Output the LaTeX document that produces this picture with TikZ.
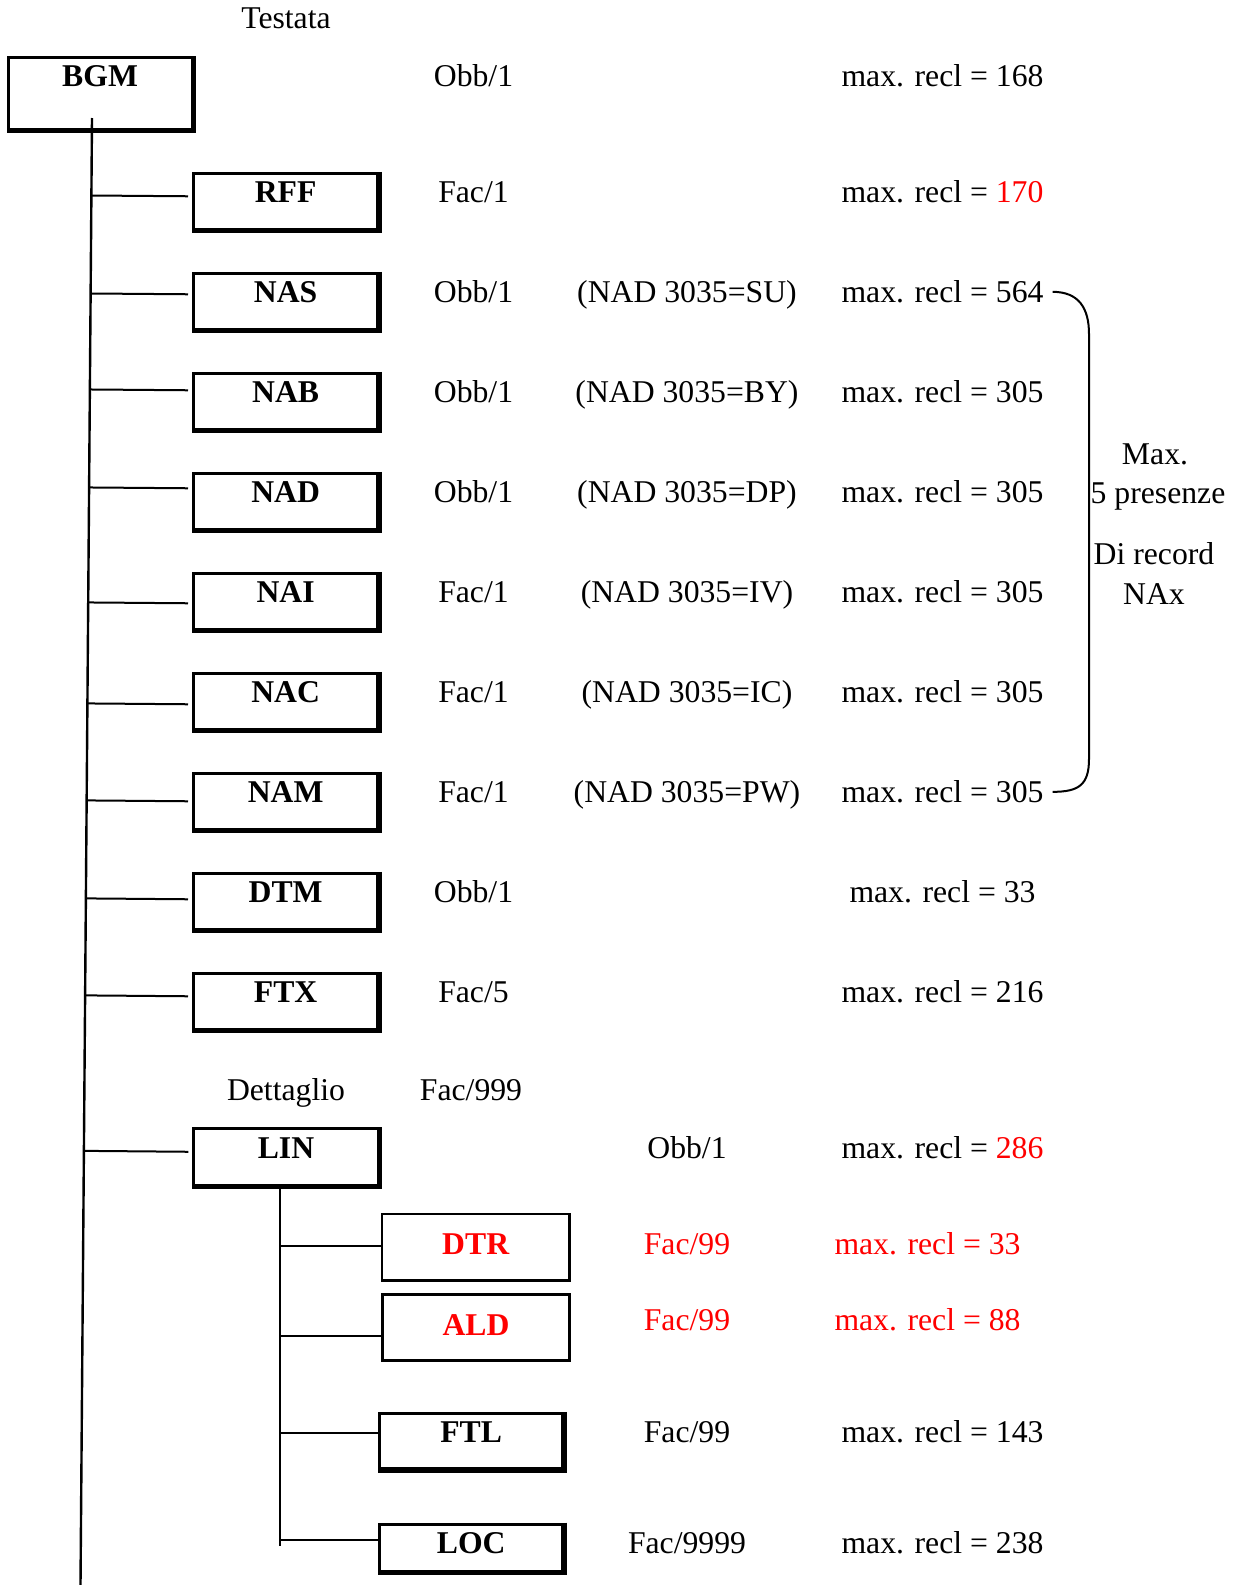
\documentclass[tikz,border=0pt]{standalone}
\usepackage{fontspec}
\setmainfont{Liberation Serif}
\usetikzlibrary{calc,positioning}

\begin{document}
\begin{tikzpicture}[x=1pt,y=-1pt,
    font=\fontsize{31.7pt}{39.5pt}\selectfont,
    recbox/.style={draw, line width=2.8pt, minimum width=184.4pt, minimum height=56.3pt,
      inner sep=0pt, text height=24pt, text depth=21.4pt,
      font=\fontsize{31.7pt}{39.5pt}\selectfont\bfseries},
    detbox/.style={recbox, line width=2.7pt, minimum width=187.4pt, minimum height=66.5pt, text=red},
    txt/.style={inner sep=0pt, anchor=base},
    link/.style={line width=2pt}]
        \useasboundingbox (0,0) rectangle (1234,1585);

        % Define column positions first
        \coordinate (c2) at (473.5,0);
        \coordinate (c3) at (687,0);
        \coordinate (c4) at (942.5,0);
        \coordinate (c4r) at (927.5,0);

        % Header record and main trunk
        \node[txt] (testata) at (286,28.3) {Testata};
        \node[recbox, minimum width=184pt, minimum height=72pt, text depth=37pt] (BGM) at (100.1,93.4) {BGM};
        \node[txt] (kBGM) at (BGM.base -| c2) {Obb/1};
        \node[txt] (rBGM) at (BGM.base -| c4) {max. recl = 168};
        \coordinate (ttop) at (92,118);
        \coordinate (tbot) at (80.5,1585);
        \draw[line width=2.4pt] (ttop) -- (tbot);

        % Header segments, one row every 100pt
        \foreach \n/\i/\dy/\k/\m/\r in {RFF/0/-5/Fac/1/\textcolor{red}{170}, NAS/1/-7/Obb/1/564,
            NAB/2/-11/Obb/1/305, NAD/3/-13/Obb/1/305, NAI/4/2/Fac/1/305, NAC/5/3/Fac/1/305,
            NAM/6/0/Fac/1/305, DTM/7/-2/Obb/1/33, FTX/8/-5/Fac/5/216} {
            \node[recbox] (\n) at (285.6,201.3+100*\i) {\n};
            % branch from the trunk to the box
            \coordinate (b\n) at ($(\n.west)+(0,\dy)$);
            \draw[link, shorten >=4pt] ($(ttop)!(b\n)!(tbot)$) -- (b\n);
            \node[txt] (k\n) at (\n.base -| c2) {\k/\m};
            \node[txt] (r\n) at (\n.base -| c4) {max. recl = \r};
        }

        % Conditions of the NAx records
        \foreach \n/\q in {NAS/SU,NAB/BY,NAD/DP,NAI/IV,NAC/IC,NAM/PW}
            \node[txt] (q\n) at (\n.base -| c3) {(NAD 3035=\q)};

        % Brace round the NAx records
        \draw[link] ([xshift=9pt]rNAS.east) .. controls +(26,0) and +(0,-26) .. (1089,334)
            -- (1089,759) .. controls +(0,26) and +(26,0) .. ([xshift=9pt]rNAM.east);
        \node[txt] (nax1) at (1155,464) {Max.};
        \node[txt] (nax2) at (1158,503) {5 presenze};
        \node[txt] (nax3) at (1154,564) {Di record};
        \node[txt] (nax4) at (1154,604) {NAx};

        % Detail section
        \node[txt] (dett) at (286,1100) {Dettaglio};
        \node[txt] (kdett) at (471,1100) {Fac/999};
        \node[recbox] (LIN) at (286,1156.8) {LIN};
        \coordinate (bLIN) at ($(LIN.west)+(0,-5)$);
        \draw[link, shorten >=4pt] ($(ttop)!(bLIN)!(tbot)$) -- (bLIN);
        \node[txt] (kLIN) at (LIN.base -| c3) {Obb/1};
        \node[txt] (rLIN) at (LIN.base -| c4) {max. recl = \textcolor{red}{286}};

        % Segments under LIN
        \node[detbox, text depth=10.6pt] (DTR) at (475.7,1247.3) {DTR};
        \node[detbox, text depth=7.4pt] (ALD) at (476,1327.5) {ALD};
        \node[recbox, minimum width=183.1pt, minimum height=55.7pt, text depth=20.6pt] (FTL) at (471.2,1441) {FTL};
        \node[recbox, minimum width=183.1pt, minimum height=47pt, text depth=12.6pt] (LOC) at (471.2,1547.6) {LOC};

        \coordinate (sx) at (280,0);
        \coordinate (sbot) at (280,1546);
        \draw[link] (LIN.south -| sx) -- (sbot);
        \foreach \n/\dy in {DTR/-1,ALD/8,FTL/-8,LOC/-8} {
            \coordinate (b\n) at ($(\n.west)+(0,\dy)$);
            \draw[link] (b\n -| sx) -- (b\n);
        }

        \node[txt, text=red] (kDTR) at (DTR.base -| c3) {Fac/99};
        \node[txt, text=red] (rDTR) at (DTR.base -| c4r) {max. recl = 33};
        \node[txt, text=red] (kALD) at ([yshift=5pt]ALD.base -| c3) {Fac/99};
        \node[txt, text=red] (rALD) at ([yshift=5pt]ALD.base -| c4r) {max. recl = 88};
        \node[txt] (kFTL) at (FTL.base -| c3) {Fac/99};
        \node[txt] (rFTL) at (FTL.base -| c4) {max. recl = 143};
        \node[txt] (kLOC) at (LOC.base -| c3) {Fac/9999};
        \node[txt] (rLOC) at (LOC.base -| c4) {max. recl = 238};

        % Thick lower and right edges of the boxes
        \foreach \n in {BGM,RFF,NAS,NAB,NAD,NAI,NAC,NAM,DTM,FTX,LIN,FTL,LOC}
            \draw[line width=5pt] (\n.north east) -- (\n.south east) -- (\n.south west);
    \end{tikzpicture}
\end{document}
